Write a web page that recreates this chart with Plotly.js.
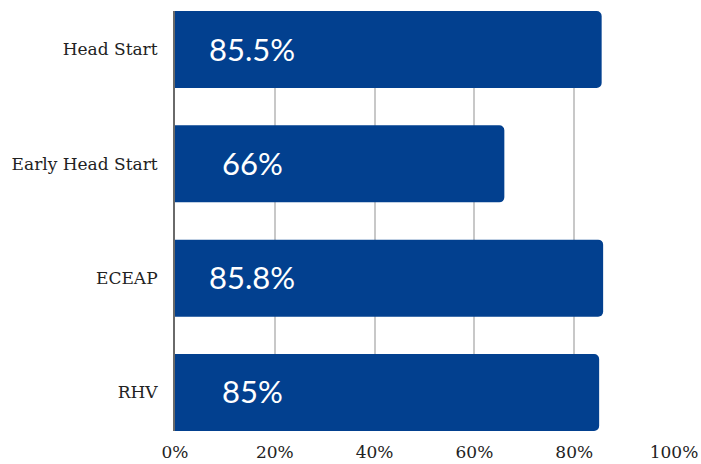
<!DOCTYPE html>
<html>
<head>
<meta charset="utf-8">
<script src="https://cdn.plot.ly/plotly-3.0.1.min.js"></script>
<style>html,body{margin:0;padding:0;background:#fff;}#chart{width:701px;height:464px;}</style>
</head>
<body>
<div id="chart"></div>
<script>
const categories = ["Head Start", "Early Head Start", "ECEAP", "RHV"];
const values = [85.5, 66, 85.8, 85];
const labels = ["85.5%", "66%", "85.8%", "85%"];
const tickVals = [0, 20, 40, 60, 80, 100];
const tickText = ["0%", "20%", "40%", "60%", "80%", "100%"];

const trace = {
  type: "bar",
  orientation: "h",
  x: values,
  y: categories,
  width: 0.674,
  marker: {color: "#02408f", cornerradius: 5},
  hoverinfo: "none"
};

const annotations = categories.map((c, i) => ({
  x: 15.5, y: c, xref: "x", yref: "y", yshift: 1,
  text: labels[i], showarrow: false,
  font: {family: "Lato, 'Noto Sans', sans-serif", size: 31, color: "#ffffff"}
}));

const layout = {
  width: 701, height: 464,
  margin: {l: 175, r: 26.5, t: 11, b: 33},
  paper_bgcolor: "#ffffff", plot_bgcolor: "#ffffff",
  showlegend: false,
  xaxis: {
    range: [0, 100], tickvals: tickVals, ticktext: tickText,
    showgrid: true, gridcolor: "#c8c8c8", gridwidth: 2,
    zeroline: false, showline: false, ticks: "", ticklabelstandoff: 9,
    tickfont: {family: "'DejaVu Serif', serif", size: 17, color: "#222"},
    fixedrange: true
  },
  yaxis: {
    range: [3.337, -0.337], type: "category",
    showgrid: false, zeroline: false,
    showline: true, linecolor: "#6a6a6a", linewidth: 2,
    ticks: "", ticklabelstandoff: 12,
    tickfont: {family: "'DejaVu Serif', serif", size: 17, color: "#222"},
    fixedrange: true
  },
  annotations: annotations
};

Plotly.newPlot("chart", [trace], layout, {displayModeBar: false, staticPlot: true});
</script>
</body>
</html>
